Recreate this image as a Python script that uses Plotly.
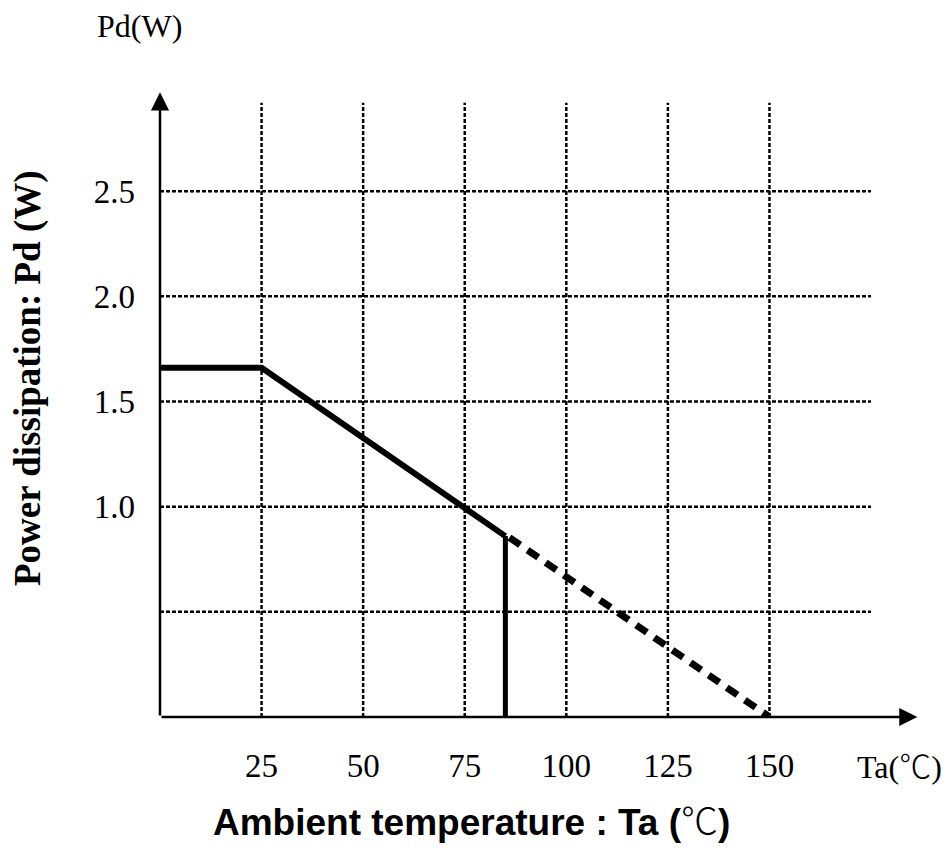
import plotly.graph_objects as go

# ---- data ----
temp_ticks = [25, 50, 75, 100, 125, 150]
temp_tick_text = ["25", "50", "75", "100", "125", "150"]
pd_ticks = [1.0, 1.5, 2.0, 2.5]
pd_tick_text = ["1.0", "1.5", "2.0", "2.5"]
pd_grid = [0.5, 1.0, 1.5, 2.0, 2.5]

# derating curve
solid_ta = [0, 25, 85]
solid_pd = [1.66, 1.66, 0.86]
dashed_ta = [86, 150]
dashed_pd = [0.853, 0.0]
limit_ta = [85, 85]
limit_pd = [0.0, 0.86]

# frame extents (axis units)
X_MAX = 190
Y_MAX = 3.0
GRID_X_END = 175
GRID_Y_END = 2.92
ARROW_X_TIP = 186.4
ARROW_Y_TIP = 2.97

W, H = 950, 868
ML, MR, MT, MB = 160, 18, 86, 151
PW, PH = W - ML - MR, H - MT - MB


def px(xp):
    return (xp - ML) / PW


def py(yp):
    return (H - MB - yp) / PH


fig = go.Figure()

# grid lines (dotted)
gx, gy = [], []
for t in temp_ticks:
    gx += [t, t, None]
    gy += [0, GRID_Y_END, None]
for p in pd_grid:
    gx += [0, GRID_X_END, None]
    gy += [p, p, None]
fig.add_trace(go.Scatter(x=gx, y=gy, mode="lines",
                         line=dict(color="black", width=2.5, dash="4px,2px"),
                         hoverinfo="skip", showlegend=False))

# curve
fig.add_trace(go.Scatter(x=solid_ta, y=solid_pd, mode="lines",
                         line=dict(color="black", width=6),
                         showlegend=False, cliponaxis=False))
fig.add_trace(go.Scatter(x=limit_ta, y=limit_pd, mode="lines",
                         line=dict(color="black", width=5),
                         showlegend=False))
fig.add_trace(go.Scatter(x=dashed_ta, y=dashed_pd, mode="lines",
                         line=dict(color="black", width=7, dash="13px,9px"),
                         showlegend=False, cliponaxis=False))

annotations = []
# axis arrows
annotations.append(dict(x=ARROW_X_TIP, y=0, ax=0, ay=0, xref="x", yref="y",
                        axref="x", ayref="y", showarrow=True, arrowhead=2,
                        arrowsize=1.45, arrowwidth=2.5, arrowcolor="black", text=""))
annotations.append(dict(x=0, y=ARROW_Y_TIP, ax=0, ay=0, xref="x", yref="y",
                        axref="x", ayref="y", showarrow=True, arrowhead=2,
                        arrowsize=1.45, arrowwidth=2.5, arrowcolor="black", text=""))

serif = "Liberation Serif, Times New Roman, serif"
cjk_c = "<span style=\"font-family:'Noto Sans CJK JP';font-weight:300\">℃</span>"
annotations.append(dict(text="Pd(W)", x=px(139), y=py(26), xref="paper", yref="paper",
                        showarrow=False, xanchor="center", yanchor="middle",
                        font=dict(family=serif, size=32, color="black")))
annotations.append(dict(text="Ta(" + cjk_c + ")", x=px(855), y=py(764),
                        xref="paper", yref="paper",
                        showarrow=False, xanchor="left", yanchor="middle",
                        font=dict(family=serif, size=32, color="black")))
annotations.append(dict(text="<b>Power dissipation: Pd (W)</b>", x=px(28), y=py(378),
                        xref="paper", yref="paper", textangle=-90,
                        showarrow=False, xanchor="center", yanchor="middle",
                        font=dict(family=serif, size=37, color="black")))
annotations.append(dict(text="<b>Ambient temperature : Ta (" + cjk_c + ")</b>",
                        x=px(471), y=py(819),
                        xref="paper", yref="paper",
                        showarrow=False, xanchor="center", yanchor="middle",
                        font=dict(family="Liberation Sans, Arial, sans-serif", size=37,
                                  color="black")))

fig.update_layout(
    width=W, height=H,
    margin=dict(l=ML, r=MR, t=MT, b=MB, pad=0),
    paper_bgcolor="white", plot_bgcolor="white",
    showlegend=False,
    annotations=annotations,
    xaxis=dict(range=[0, X_MAX], showgrid=False, zeroline=False, showline=False,
               tickmode="array", tickvals=temp_ticks, ticktext=temp_tick_text,
               ticks="", ticklabelstandoff=26,
               tickfont=dict(family=serif, size=33, color="black")),
    yaxis=dict(range=[0, Y_MAX], showgrid=False, zeroline=False, showline=False,
               tickmode="array", tickvals=pd_ticks, ticktext=pd_tick_text,
               ticks="", ticklabelstandoff=24,
               tickfont=dict(family=serif, size=33, color="black")),
)

fig.write_html("out.html")
